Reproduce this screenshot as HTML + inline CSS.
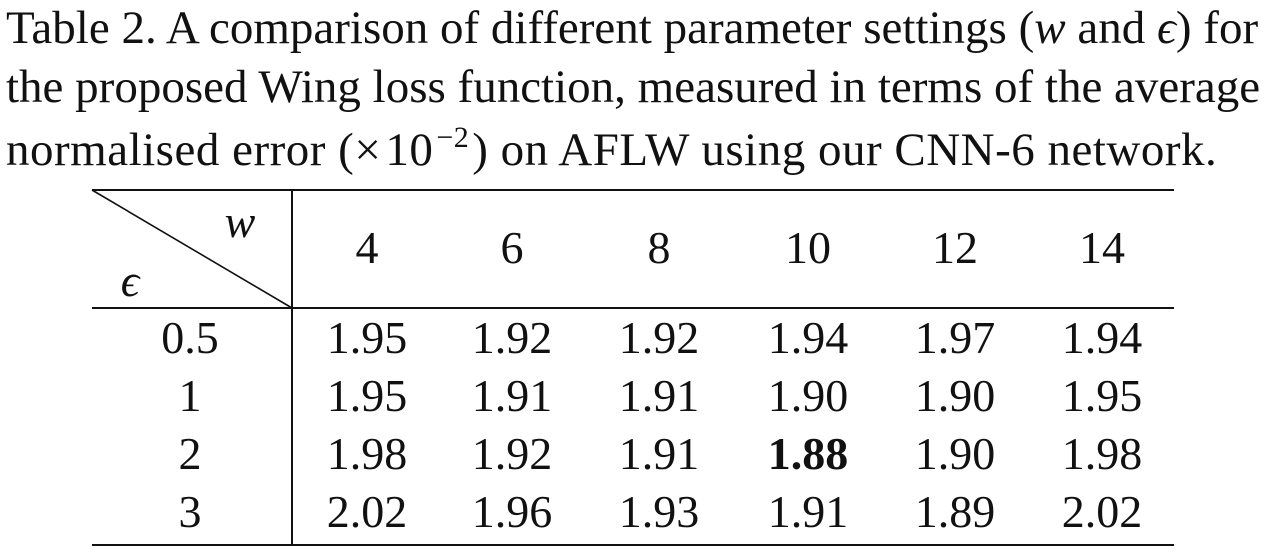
<!DOCTYPE html>
<html><head><meta charset="utf-8">
<style>
html,body{margin:0;padding:0;background:#fff;}
body{width:1270px;height:556px;position:relative;overflow:hidden;font-family:"Liberation Serif",serif;color:#111;}
.cap{position:absolute;left:6px;font-size:47px;white-space:nowrap;line-height:1;letter-spacing:0px;}
.cell{position:absolute;font-size:46px;transform:translate(-50%,-50%);white-space:nowrap;line-height:1;}
.rule{position:absolute;background:#111;}
</style></head>
<body>
<div class="cap" style="top:5px;">Table 2. A comparison of different parameter settings (<i>w</i> and <i>ϵ</i>) for</div>
<div class="cap" style="top:64px;">the proposed Wing loss function, measured in terms of the average</div>
<div class="cap" style="top:123px;letter-spacing:0.5px;">normalised error (<span style="margin-right:4px;">×</span>10<sup style="font-size:30px;vertical-align:18px;margin-left:3px;margin-right:3px;">−2</sup>) on AFLW using our CNN-6 network.</div>

<div class="rule" style="left:92px;top:189px;width:1082px;height:2px;"></div>
<div class="rule" style="left:92px;top:307px;width:1082px;height:2px;"></div>
<div class="rule" style="left:92px;top:544px;width:1082px;height:2px;"></div>
<div class="rule" style="left:291px;top:190px;width:2px;height:355px;"></div>
<svg style="position:absolute;left:0;top:0;" width="1270" height="556"><line x1="92" y1="190" x2="292" y2="308" stroke="#111" stroke-width="1.6"/></svg>
<div class="cell" style="left:240px;top:222px;"><i>w</i></div>
<div class="cell" style="left:130px;top:281px;"><i>ϵ</i></div>
<div id="t"></div>
<script>
const wValues=["4","6","8","10","12","14"];
const epsValues=["0.5","1","2","3"];
const row0=["1.95","1.92","1.92","1.94","1.97","1.94"];
const row1=["1.95","1.91","1.91","1.90","1.90","1.95"];
const row2=["1.98","1.92","1.91","1.88","1.90","1.98"];
const row3=["2.02","1.96","1.93","1.91","1.89","2.02"];
const rows=[row0,row1,row2,row3];
const best=[2,3];
const colX=[367,512,659,808,955,1102];
const rowY=[338,396,454,512];
const t=document.getElementById('t');
function mk(txt,x,y){const d=document.createElement('div');d.className='cell';d.textContent=txt;d.style.left=x+'px';d.style.top=y+'px';t.appendChild(d);return d;}
wValues.forEach((w,i)=>{const d=mk(w,colX[i],248);

});
epsValues.forEach((e,r)=>{const d=mk(e,190,rowY[r]);


rows[r].forEach((v,c)=>{const cell=mk(v,colX[c],rowY[r]);


if(r===best[0]&&c===best[1])cell.style.fontWeight='bold';});});
</script>
</body></html>
